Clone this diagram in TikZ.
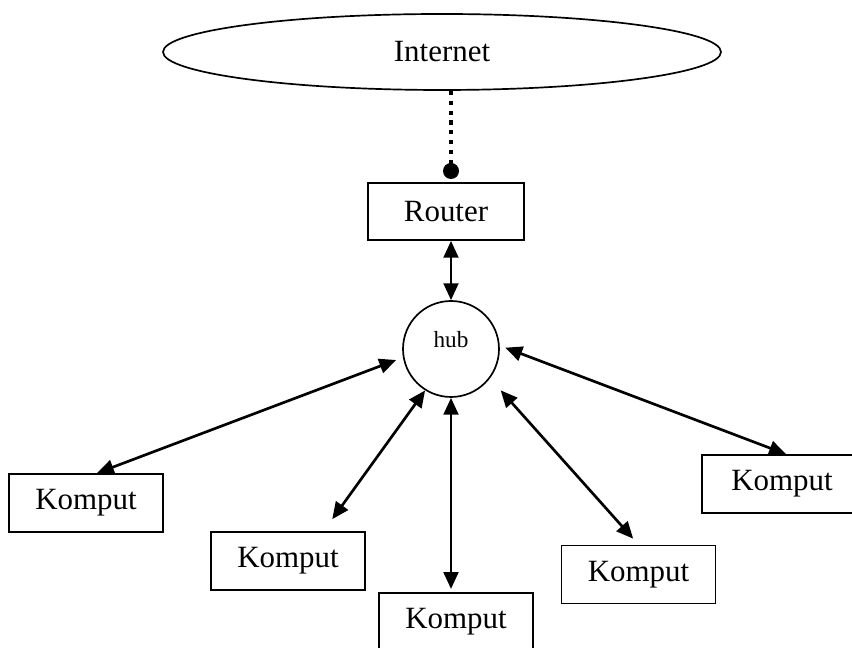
\documentclass[tikz,border=0pt]{standalone}
\usepackage{fontspec}
\setmainfont{Liberation Serif}
\usetikzlibrary{arrows.meta,shapes.geometric}

\begin{document}
\begin{tikzpicture}[
		box/.style={rectangle, draw, line width=1.2pt, inner sep=0pt, minimum width=3.85cm, minimum height=1.45cm, font=\fontsize{22}{26}\selectfont},
		link/.style={{Triangle[length=12pt,width=10.5pt]}-{Triangle[length=12pt,width=10.5pt]}, line width=1.9pt}
	]
		\useasboundingbox (0,0) rectangle (21.3,16.2);

		\node[ellipse, draw, line width=1.2pt, minimum width=13.95cm, minimum height=1.9cm, font=\fontsize{22}{26}\selectfont] (internet) at (11.05,14.9) {Internet};
		\node[box, minimum width=3.9cm, minimum height=1.425cm] (router) at (11.15,10.9125) {Router};
		\node[circle, draw, line width=1.2pt, minimum size=2.4cm, label={[font=\fontsize{16.5}{18}\selectfont, yshift=0.225cm]center:hub}] (hub) at (11.275,7.475) {};

		\node[box] (k1) at (2.15,3.625) {Komput};
		\node[box] (k2) at (7.2,2.175) {Komput};
		\node[box] (k3) at (11.4,0.65) {Komput};
		\node[box] (k4) at (15.9625,1.8375) {Komput};
		\node[box, minimum width=4cm] (k5) at (19.55,4.1) {Komput};

		% line to the internet
		\coordinate (plug) at (11.275,11.925);
		\draw[line width=3pt, dash pattern=on 3pt off 4pt] (hub |- internet.south) -- (plug);
		\fill (plug) circle (0.2);

		\draw[link] (router.south -| hub) -- (hub.north);
		\draw[link, shorten <=0.18cm] (hub.190) -- ([xshift=0.275cm]k1.north);
		\draw[link, shorten >=0.37cm] (hub.238) -- ([xshift=0.89cm]k2.north);
		\draw[link, shorten >=0.08cm] (hub.south) -- (hub.south |- k3.north);
		\draw[link, shorten <=0.4cm, shorten >=0.2cm] (hub.-37) -- (k4.north);
		\draw[link, shorten <=0.15cm] (hub.4) -- ([xshift=0.1cm]k5.north);

	\end{tikzpicture}
\end{document}
